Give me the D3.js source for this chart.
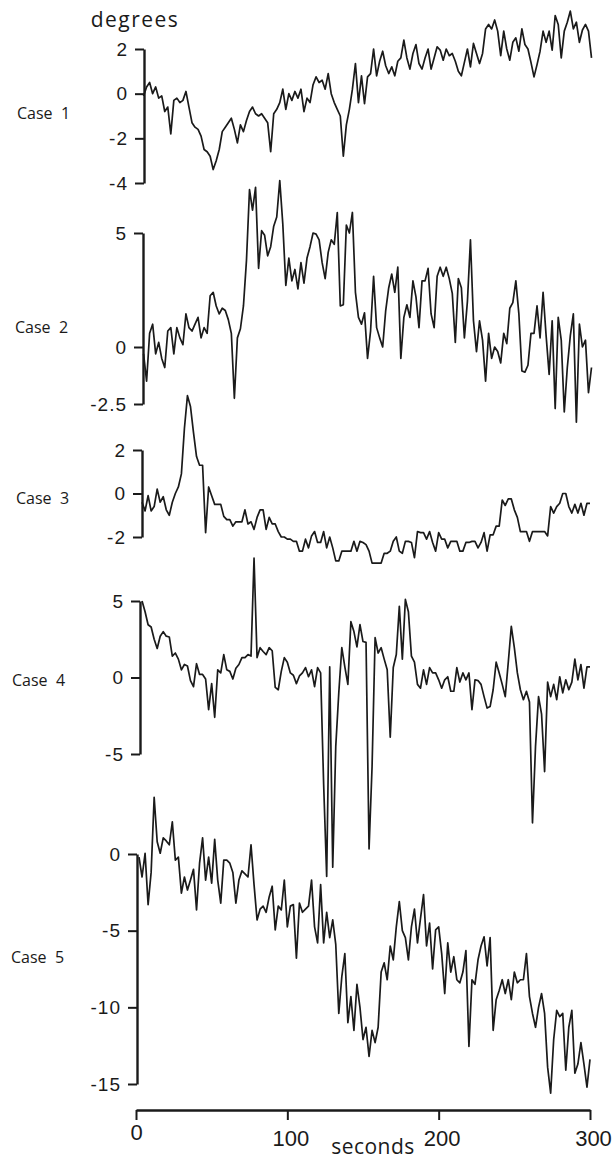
<!DOCTYPE html>
<html>
<head>
<meta charset="utf-8">
<script src="https://cdn.jsdelivr.net/npm/d3@7"></script>
<style>
  body { margin: 0; background: #fff; }
  svg { display: block; font-family: "Open Sans", "DejaVu Sans", sans-serif; }
  .tick text { fill: #1a1a1a; }
  .case-label { white-space: pre; }
</style>
</head>
<body>
<svg width="615" height="1163"></svg>
<script>
const svg = d3.select('svg');

// sampling step of the traces, seconds
const step = 2;

// Case 1, starts at 5 s
const case1 = [-0.1, 0.3, 0.5, 0.0, 0.3, -0.2, -0.1, -0.8, -0.6, -1.8, -0.3, -0.2, -0.4, -0.3, 0.1, -0.6,
  -1.3, -1.5, -1.6, -1.9, -2.5, -2.6, -2.8, -3.4, -3.0, -2.5, -1.7, -1.5, -1.3, -1.1, -1.6, -2.2, -1.4,
  -1.7, -1.2, -0.8, -0.6, -0.9, -1.0, -0.9, -1.1, -1.3, -2.6, -0.9, -0.7, -0.4, 0.2, -0.7, 0.0, -0.3,
  0.1, -0.2, 0.2, -0.8, -0.2, -0.4, 0.4, 0.75, 0.5, 0.6, 0.2, 0.9, 0.0, -0.4, -0.7, -1.0, -2.8, -1.4,
  -0.7, 0.2, 1.35, -0.4, 0.8, -0.45, 0.75, 0.9, 2.0, 0.8, 1.45, 1.9, 1.25, 0.9, 1.2, 0.8, 1.45, 1.6,
  2.4, 1.6, 1.1, 1.8, 2.2, 1.35, 1.1, 1.6, 2.0, 1.1, 1.6, 2.1, 1.95, 1.5, 2.0, 1.7, 1.8, 1.45, 1.0,
  0.8, 1.4, 2.0, 1.2, 2.25, 1.8, 1.35, 1.8, 2.9, 3.1, 2.9, 3.3, 2.8, 1.7, 2.8, 2.0, 1.5, 2.3, 2.5,
  1.9, 2.9, 2.2, 2.0, 1.4, 0.75, 1.3, 1.9, 2.8, 2.3, 2.8, 1.95, 3.5, 3.1, 1.6, 2.8, 3.2, 3.7, 2.9,
  3.2, 2.3, 2.85, 3.1, 2.8, 1.6];

// Case 2, starts at 5 s
const case2 = [-0.3, -1.5, 0.6, 1.0, -0.3, 0.2, -0.5, -0.9, 0.7, 0.85, -0.3, 0.85, 0.4, 0.1, 1.45, 0.85,
  0.7, 1.0, 1.3, 0.4, 0.85, 0.6, 2.25, 2.4, 1.8, 1.45, 1.7, 1.6, 1.2, 0.6, -2.25, 0.4, 0.8, 1.8, 3.8,
  6.9, 6.0, 7.0, 3.45, 5.1, 4.9, 4.0, 4.4, 5.3, 5.7, 7.3, 5.4, 2.7, 3.9, 2.9, 3.4, 2.55, 3.7, 2.8, 3.9,
  4.4, 5.0, 4.95, 4.7, 3.7, 3.0, 4.15, 4.7, 4.5, 5.9, 1.8, 1.85, 5.35, 5.0, 5.9, 2.4, 1.3, 1.0, 1.5,
  -0.5, 0.7, 3.1, 0.85, 0.4, 0.0, 1.6, 2.6, 3.2, 2.4, 3.5, -0.5, 1.3, 1.85, 1.3, 2.9, 2.2, 0.85, 2.9,
  2.9, 3.45, 1.45, 0.85, 3.1, 3.5, 3.1, 3.5, 3.0, 2.35, 0.2, 3.0, 2.6, 0.4, 2.0, 4.7, 1.15, -0.2, 1.15,
  0.3, -1.5, 0.6, -0.5, 0.0, -0.2, -0.7, 0.6, 0.15, 1.7, 1.95, 2.9, 1.45, -1.05, -1.1, -0.8, 0.6, 0.6,
  1.8, 0.4, 2.4, 0.5, -1.2, 1.15, -2.7, 1.3, 0.3, -2.85, -0.9, 0.5, 1.45, -3.3, 1.0, 0.0, 0.3, -2.0,
  -0.9];

// Case 3, starts at 4 s
const case3 = [-0.4, -0.8, -0.1, -0.8, -0.6, 0.2, -0.4, -0.15, -0.75, -1.0, -0.4, 0.0, 0.3, 0.9, 3.0,
  4.5, 4.0, 2.8, 1.7, 1.3, 1.3, -1.8, 0.3, -0.1, -0.5, -0.5, -0.5, -1.05, -1.2, -1.2, -1.5, -1.3, -1.3,
  -1.3, -0.75, -1.4, -1.3, -1.65, -1.1, -0.75, -0.75, -1.65, -1.1, -1.4, -1.4, -1.75, -2.0, -2.0, -2.1,
  -2.1, -2.2, -2.2, -2.65, -2.65, -2.1, -2.5, -1.95, -1.75, -2.25, -2.25, -1.75, -2.5, -2.0, -2.5,
  -3.1, -3.1, -2.65, -2.65, -2.65, -2.65, -2.2, -2.65, -2.2, -2.25, -2.35, -2.65, -3.2, -3.2, -3.2,
  -3.2, -2.75, -2.75, -2.65, -2.2, -2.0, -2.65, -2.75, -2.2, -2.2, -2.25, -2.95, -1.75, -1.8, -1.8,
  -2.1, -1.75, -2.25, -2.65, -1.8, -2.1, -2.1, -2.5, -2.2, -2.2, -2.2, -2.65, -2.65, -2.25, -2.25,
  -2.2, -2.2, -2.5, -2.25, -1.8, -2.65, -1.9, -1.9, -1.5, -1.5, -0.3, -0.55, -0.25, -0.25, -0.75,
  -1.1, -1.75, -1.75, -1.75, -2.2, -1.75, -1.75, -1.75, -1.75, -1.75, -1.95, -0.6, -0.9, -0.6, -0.45,
  0.0, 0.0, -0.6, -0.9, -0.5, -0.9, -0.45, -1.0, -0.45, -0.45];

// Case 4, starts at 4 s
const case4 = [5.0, 4.3, 3.45, 3.3, 2.5, 1.9, 2.7, 3.0, 2.7, 2.65, 1.4, 1.6, 1.2, 0.5, 0.85, 0.75, -0.2,
  -0.6, 0.9, 0.2, 0.2, -0.1, -2.1, -0.4, -2.6, 0.5, 0.3, 1.5, 0.5, 0.4, -0.1, 0.6, 0.85, 1.3, 1.3, 1.5,
  1.4, 7.8, 1.3, 1.95, 1.7, 1.5, 1.95, 1.75, -0.65, -0.8, 0.4, 1.3, 1.0, 0.3, 0.15, -0.4, 0.1, 0.3,
  0.65, 0.05, 0.5, -0.6, 0.65, 0.3, -7.0, -13.0, 0.7, -12.4, -4.5, -1.0, 1.95, 0.7, -0.45, 3.65, 3.0,
  2.0, 3.45, 2.35, 2.3, -11.2, -5.8, 2.6, 1.6, 1.95, 1.2, 0.5, -3.9, 0.65, 1.5, 4.65, 1.2, 5.1, 4.3,
  1.4, 1.0, -0.45, -0.7, 0.5, -0.45, 0.65, 0.3, 0.3, -0.15, -0.7, -0.15, 0.05, -0.9, -0.9, 0.65, -0.3,
  0.3, -0.15, 0.3, -2.1, -0.15, -0.2, -0.45, -1.25, -2.0, -1.9, -0.8, 1.0, 0.3, -0.45, -1.25, 1.0,
  3.35, 1.95, 0.3, -0.8, -1.45, -0.9, -1.6, -9.5, -4.5, -1.25, -2.4, -6.15, -0.3, -1.25, -0.45, -1.45,
  0.05, -1.0, -0.15, -0.8, -0.3, 1.2, -0.15, 0.85, -0.7, 0.7, 0.7];

// Case 5, starts at 2 s
const case5 = [-0.2, -1.5, 0.05, -3.3, -1.2, 3.7, 0.8, 0.05, 1.05, 0.85, 0.6, 2.1, -0.4, -0.2, -2.55,
  -1.5, -2.35, -1.7, -1.0, -3.65, -0.6, 1.05, -1.7, -0.2, -1.9, 0.95, -1.7, -3.2, -0.4, -0.4, -0.6,
  -1.2, -3.2, -1.7, -1.1, -1.3, -1.5, 0.6, -2.0, -4.3, -3.6, -3.4, -3.8, -2.8, -2.1, -4.95, -3.4, -3.65,
  -1.7, -4.75, -3.4, -3.3, -6.8, -3.2, -3.8, -3.6, -3.4, -1.7, -4.75, -5.8, -2.0, -5.8, -3.8, -5.45,
  -4.3, -5.9, -10.4, -8.0, -6.5, -11.0, -9.3, -11.5, -8.5, -10.0, -12.1, -11.3, -13.2, -11.5, -12.3,
  -11.3, -7.7, -7.1, -8.2, -6.0, -6.9, -4.75, -3.1, -5.0, -5.45, -6.9, -4.75, -3.6, -5.8, -4.2, -2.65,
  -6.0, -4.5, -7.5, -4.95, -4.75, -6.5, -9.1, -5.8, -7.7, -6.7, -8.2, -8.4, -7.7, -6.3, -12.55, -8.2,
  -8.5, -6.9, -6.0, -5.4, -7.3, -5.45, -11.5, -9.5, -8.9, -8.2, -9.1, -8.2, -9.5, -7.7, -8.4, -8.2,
  -8.2, -6.5, -9.3, -10.4, -11.3, -10.0, -9.1, -10.4, -13.9, -15.6, -12.1, -10.2, -10.6, -10.4, -14.1,
  -11.3, -10.2, -14.3, -13.7, -12.3, -13.7, -15.2, -13.4];

const caseNames = ['Case  1', 'Case  2', 'Case  3', 'Case  4', 'Case  5'];
const startTimes = [5, 5, 4, 4, 2];
const yDomains = [[-4, 2], [-2.5, 5], [-2, 2], [-5, 5], [-15, 0]];
const yTicks = [[-4, -2, 0, 2], [-2.5, 0, 5], [-2, 0, 2], [-5, 0, 5], [-15, -10, -5, 0]];
const xTicks = [0, 100, 200, 300];

// page layout of the five stacked panels
const panelTop = [49, 233, 450, 601, 854];
const panelBottom = [183, 404, 537, 754, 1084];
const axisXs = [144, 143, 142, 140, 137];
const labelXs = [17, 15, 16, 12, 11];
const labelYs = [113, 327, 498, 680, 957];

const series = [case1, case2, case3, case4, case5];

const xScale = d3.scaleLinear()
  .domain([0, 300])
  .range([136, 590]);

const render = () => {
  series.forEach((values, i) => {
    const yScale = d3.scaleLinear()
      .domain(yDomains[i])
      .range([panelBottom[i], panelTop[i]]);

    const g = svg.append('g').attr('class', 'panel');

    const yAxis = d3.axisLeft(yScale)
      .tickValues(yTicks[i])
      .tickSize(9)
      .tickSizeOuter(0)
      .tickPadding(7)
      .tickFormat(d => String(d));

    const yAxisG = g.append('g')
      .attr('transform', `translate(${axisXs[i]},0)`)
      .call(yAxis);
    yAxisG.select('.domain')
      .attr('stroke', '#1a1a1a')
      .attr('stroke-width', 2.4);
    yAxisG.selectAll('.tick line')
      .attr('stroke', '#1a1a1a')
      .attr('stroke-width', 2);
    yAxisG.selectAll('.tick text')
      .attr('font-size', 19)
      .attr('letter-spacing', 1);

    const line = d3.line()
      .x((d, k) => xScale(startTimes[i] + k * step))
      .y(d => yScale(d));

    g.append('path')
      .datum(values)
      .attr('fill', 'none')
      .attr('stroke', '#1a1a1a')
      .attr('stroke-width', 1.7)
      .attr('stroke-linejoin', 'round')
      .attr('d', line);

    g.append('text')
      .attr('class', 'case-label')
      .attr('x', labelXs[i])
      .attr('y', labelYs[i])
      .attr('dy', '0.35em')
      .attr('font-size', 16)
      .attr('fill', '#1a1a1a')
      .text(caseNames[i]);
  });

  svg.append('text')
    .attr('x', 135)
    .attr('y', 27)
    .attr('text-anchor', 'middle')
    .attr('font-size', 21)
    .attr('letter-spacing', 1.5)
    .attr('fill', '#1a1a1a')
    .text('degrees');

  const xAxis = d3.axisBottom(xScale)
    .tickValues(xTicks)
    .tickSize(10)
    .tickSizeOuter(0)
    .tickPadding(12)
    .tickFormat(d => String(d));

  const xAxisG = svg.append('g')
    .attr('transform', 'translate(0,1110)')
    .call(xAxis);
  xAxisG.select('.domain')
    .attr('stroke', '#1a1a1a')
    .attr('stroke-width', 2.4);
  xAxisG.selectAll('.tick line')
    .attr('stroke', '#1a1a1a')
    .attr('stroke-width', 2);
  xAxisG.selectAll('.tick text')
    .attr('font-size', 22)
    .attr('y', d => d === 0 ? 14 : 20)
    .attr('dx', d => d === 0 ? 0 : 3);

  svg.append('text')
    .attr('x', 373)
    .attr('y', 1154)
    .attr('text-anchor', 'middle')
    .attr('font-size', 21)
    .attr('letter-spacing', 0.5)
    .attr('fill', '#1a1a1a')
    .text('seconds');
};

render();
</script>
</body>
</html>
